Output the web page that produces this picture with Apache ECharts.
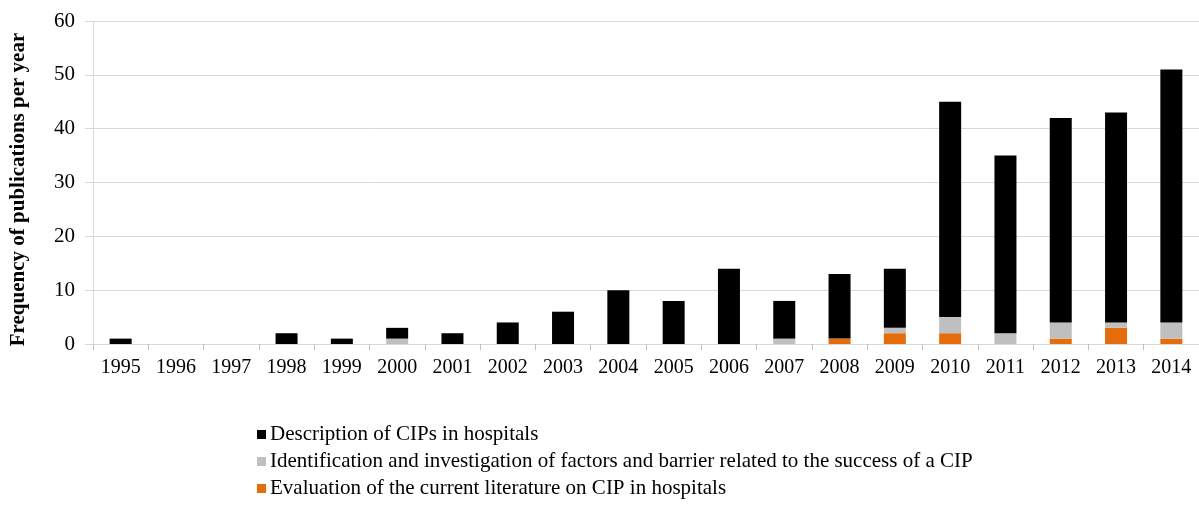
<!DOCTYPE html>
<html>
<head>
<meta charset="utf-8">
<script src="https://cdn.jsdelivr.net/npm/echarts@6/dist/echarts.min.js"></script>
<style>
  html, body { margin: 0; padding: 0; background: #fff; }
  #chart { width: 1199px; height: 505px; }
</style>
</head>
<body>
<div id="chart"></div>
<script>
// 年份
const years = ['1995', '1996', '1997', '1998', '1999', '2000', '2001', '2002', '2003', '2004',
  '2005', '2006', '2007', '2008', '2009', '2010', '2011', '2012', '2013', '2014'];
// 三类文献
const description = [1, 0, 0, 2, 1, 2, 2, 4, 6, 10, 8, 14, 7, 12, 11, 40, 33, 38, 39, 47];
const identification = [0, 0, 0, 0, 0, 1, 0, 0, 0, 0, 0, 0, 1, 0, 1, 3, 2, 3, 1, 3];
const evaluation = [0, 0, 0, 0, 0, 0, 0, 0, 0, 0, 0, 0, 0, 1, 2, 2, 0, 1, 3, 1];
const yTicks = [0, 10, 20, 30, 40, 50, 60];

const names = [
  'Description of CIPs in hospitals',
  'Identification and investigation of factors and barrier related to the success of a CIP',
  'Evaluation of the current literature on CIP in hospitals'
];

const serif = '"Liberation Serif", "Times New Roman", serif';

var myecharts = echarts.init(document.getElementById('chart'));

function bar(name, data, color) {
  return {
    name: name,
    type: 'bar',
    stack: 'total',
    data: data,
    barWidth: 22,
    itemStyle: { color: color }
  };
}

option = {
  animation: false,
  backgroundColor: '#fff',
  textStyle: { fontFamily: serif },
  grid: { left: 93, top: 21, width: 1112, height: 323, containLabel: false },
  legend: {
    orient: 'vertical',
    left: 257,
    top: 424,
    padding: 0,
    itemWidth: 9,
    itemHeight: 9,
    itemGap: 6,
    icon: 'rect',
    data: names,
    textStyle: { fontFamily: serif, fontSize: 21, color: '#000', padding: [0, 0, 0, -1] }
  },
  xAxis: {
    type: 'category',
    data: years,
    axisLine: { lineStyle: { color: '#d9d9d9', width: 1 } },
    axisTick: { show: true, length: 6, lineStyle: { color: '#bfbfbf' } },
    axisLabel: { color: '#000', fontSize: 20, fontFamily: serif, margin: 14, interval: 0 }
  },
  yAxis: {
    type: 'value',
    min: yTicks[0],
    max: yTicks[yTicks.length - 1],
    interval: 10,
    name: 'Frequency of publications per year',
    nameLocation: 'middle',
    nameRotate: 90,
    nameGap: 64,
    nameTextStyle: { fontFamily: serif, fontSize: 21, fontWeight: 'bold', color: '#000', padding: [0, 14, 0, 0] },
    axisLine: { show: true, lineStyle: { color: '#d9d9d9' } },
    axisTick: { show: true, length: 8, lineStyle: { color: '#d9d9d9' } },
    axisLabel: { color: '#000', fontSize: 21, fontFamily: serif, margin: 18 },
    splitLine: { lineStyle: { color: '#d9d9d9' } }
  },
  series: [
    bar(names[2], evaluation, '#e46c0a'),
    bar(names[1], identification, '#bfbfbf'),
    bar(names[0], description, '#000000')
  ]
};

myecharts.setOption(option);
</script>
</body>
</html>
